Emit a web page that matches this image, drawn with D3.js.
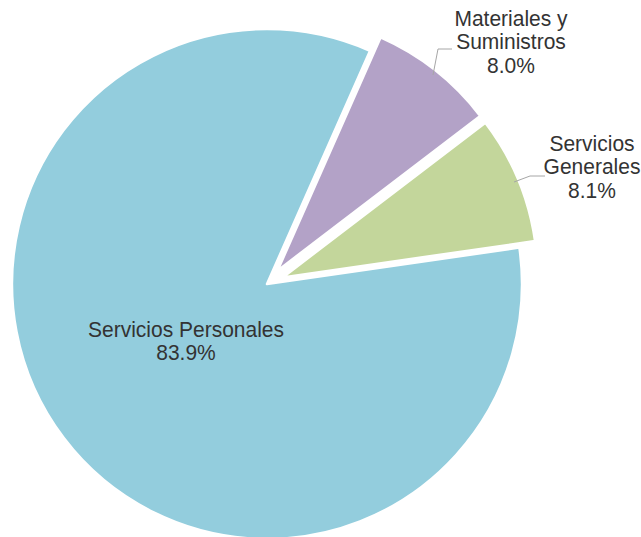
<!DOCTYPE html>
<html>
<head>
<meta charset="utf-8">
<script src="https://cdn.jsdelivr.net/npm/d3@7"></script>
<style>
  html, body { margin: 0; padding: 0; background: #fff; }
  svg { display: block; }
  text { font-family: "Liberation Sans", Arial, sans-serif; font-size: 21px; fill: #333; }
</style>
</head>
<body>
<svg id="chart" width="641" height="537"></svg>
<script>
// Data
const categories = ["Servicios Personales", "Materiales y Suministros", "Servicios Generales"];
const values = [83.9, 8.0, 8.1];
const labelLines = [["Servicios Personales", "83.9%"], ["Materiales y", "Suministros", "8.0%"], ["Servicios", "Generales", "8.1%"]];
const colors = ["#93CDDD", "#B3A2C7", "#C3D69B"];
const exploded = [false, true, true];

const svg = d3.select("#chart");
const cx = 267, cy = 284, r = 255, explode = 17;
const start = 81.8 * Math.PI / 180;

const pie = d3.pie().sort(null).value(d => d).startAngle(start).endAngle(start + 2 * Math.PI);
const arcs = pie(values);
const arc = d3.arc().innerRadius(0).outerRadius(r);

const g = svg.append("g").attr("transform", `translate(${cx},${cy})`);

function offset(d, i) {
  if (!exploded[i]) return [0, 0];
  const a = (d.startAngle + d.endAngle) / 2;
  return [explode * Math.sin(a), -explode * Math.cos(a)];
}

g.selectAll("path.slice")
  .data(arcs)
  .join("path")
  .attr("class", "slice")
  .attr("d", arc)
  .attr("transform", (d, i) => { const o = offset(d, i); return `translate(${o[0]},${o[1]})`; })
  .attr("fill", (d, i) => colors[i])
  .attr("stroke", "#fff")
  .attr("stroke-width", 2.5)
  .attr("stroke-linejoin", "round");

// Leader lines (for outside labels)
const leaders = [
  null,
  [[433, 75], [438, 49], [452, 49]],
  [[514, 182], [530, 176], [545, 176]]
];
svg.selectAll("path.leader")
  .data(leaders.filter(d => d))
  .join("path")
  .attr("class", "leader")
  .attr("d", d => d3.line()(d))
  .attr("fill", "none")
  .attr("stroke", "#a6a6a6")
  .attr("stroke-width", 1);

// Labels
const labelPos = [[186, 337], [511, 26], [592, 151]];
const lineH = 23.5;
labelLines.forEach((lines, i) => {
  const [x, y] = labelPos[i];
  const t = svg.append("text")
    .attr("text-anchor", "middle")
    .attr("transform", `translate(${x},${y}) scale(1,1.07)`)
    .attr("fill", i === 0 ? "#263540" : "#333");
  lines.forEach((ln, j) => {
    t.append("tspan")
      .attr("x", 0)
      .attr("dy", j === 0 ? 0 : lineH / 1.07)
      .text(ln);
  });
});
</script>
</body>
</html>
